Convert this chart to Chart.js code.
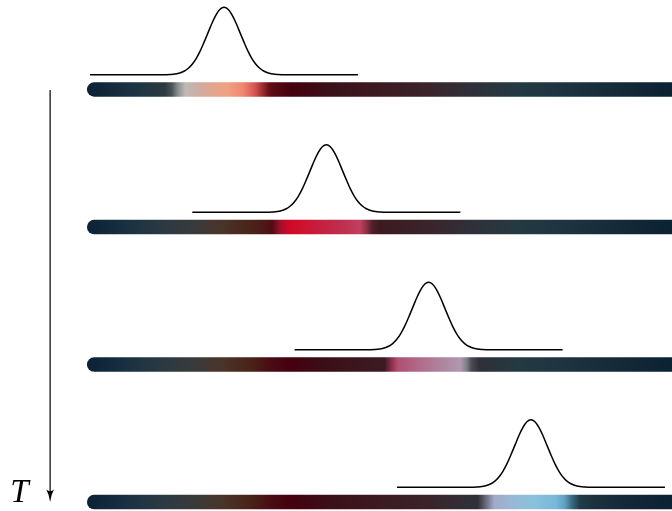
<!DOCTYPE html>
<html>
<head>
<meta charset="utf-8">
<script src="https://cdn.jsdelivr.net/npm/chart.js@4"></script>
<style>
html,body{margin:0;padding:0;background:#fff;}
#wrap{width:672px;height:511px;position:relative;}
</style>
</head>
<body>
<div id="wrap"><canvas id="c"></canvas></div>
<script>
// ---------------- DATA ----------------
// time steps (one coloured strip per step)
const timeSteps = [0, 1, 2, 3];
// position of the wave packet centre at each time step
const packetCenters = [1, 2, 3, 4];
// packet profile: offsets from centre and normalised height
const shapeOffsets = [0, 0.039, 0.078, 0.117, 0.156, 0.196, 0.235, 0.274, 0.313, 0.352, 0.391, 0.450, 0.528, 0.606, 1.31];
const shapeHeights = [1, 0.971, 0.889, 0.768, 0.625, 0.480, 0.347, 0.237, 0.153, 0.093, 0.053, 0.020, 0.005, 0.001, 0];
// strip extent
const stripStart = -0.27;
const stripEnd = 5.6;
// background colour of the strip (position, colour)
const baseStopPos = [-0.34, 0.08, 0.42, 0.72, 0.98, 1.25, 1.45, 1.65, 2.04, 2.52, 3.01, 3.40, 3.89, 4.28, 4.87, 5.38];
const baseStopColors = ['#0b2236', '#1a3242', '#2c3a42', '#3a3a3a', '#4a3428', '#4a2418', '#4a0c14', '#45000e',
  '#3a1018', '#3c1a22', '#3a242a', '#303038', '#243a42', '#1e3440', '#152a38', '#0a2234'];
// highlighted colours under the packet at each time step
const highlightPos = [
  [0.49, 0.55, 0.62, 0.77, 0.91, 1.04, 1.18, 1.25, 1.31, 1.37, 1.45],
  [1.37, 1.47, 1.55, 1.63, 1.74, 1.94, 2.18, 2.33, 2.39, 2.45],
  [2.57, 2.64, 2.70, 2.92, 3.16, 3.31, 3.37, 3.42, 3.50],
  [3.48, 3.56, 3.64, 3.80, 4.04, 4.24, 4.33, 4.40, 4.48, 4.58]
];
const highlightColors = [
  ['#4a5458', '#8a8e8e', '#c0b8b6', '#d0aca0', '#e4a48c', '#f0a080', '#f08870', '#e06c60', '#d05050', '#a03030', '#600c14'],
  ['#4a1c18', '#500c14', '#a0102a', '#d00828', '#d0102c', '#c42040', '#c03050', '#c04060', '#903048', '#502028'],
  ['#3c1a22', '#903050', '#b05070', '#b06c8c', '#ae88a0', '#b098b0', '#808088', '#4a4a54', '#2e3038'],
  ['#303038', '#6a6a7a', '#a0aac8', '#98b8d4', '#88c2dc', '#78b8d8', '#60a0c0', '#3a6a80', '#203a48', '#1c3440']
];
// time axis
const timeAxisPos = -0.70;
const timeAxisFrom = 0.004;
const timeAxisTo = 2.93;
const timeLabel = 'T';

// ---------------- LAYOUT (derived) ----------------
const X_MIN = -1.19, X_MAX = 5.379;
const Y_MIN = -0.651, Y_MAX = 3.065;
const BASE_OFFSET = 0.107;  // curve baseline above strip centre (row units)
const AMP = 0.491;          // curve height (row units)

function stopsFor(row) {
  const hp = highlightPos[row], hc = highlightColors[row];
  const lo = hp[0], hi = hp[hp.length - 1];
  const stops = [];
  baseStopPos.forEach((p, i) => { if (p < lo - 0.001 || p > hi + 0.001) stops.push([p, baseStopColors[i]]); });
  hp.forEach((p, i) => stops.push([p, hc[i]]));
  stops.sort((a, b) => a[0] - b[0]);
  return stops;
}

function stripGradient(context, row) {
  const chart = context.chart;
  if (!chart.chartArea) return '#1a2a36';
  const xs = chart.scales.x;
  const p0 = xs.getPixelForValue(X_MIN), p1 = xs.getPixelForValue(X_MAX);
  const g = chart.ctx.createLinearGradient(p0, 0, p1, 0);
  stopsFor(row).forEach(([p, c]) => {
    const t = Math.min(1, Math.max(0, (p - X_MIN) / (X_MAX - X_MIN)));
    g.addColorStop(t, c);
  });
  return g;
}

const datasets = [];
timeSteps.forEach((T, row) => {
  datasets.push({
    data: [{x: stripStart, y: T}, {x: stripEnd, y: T}],
    borderColor: (ctx) => stripGradient(ctx, row),
    borderWidth: 14.4,
    borderCapStyle: 'round',
    pointRadius: 0,
    tension: 0,
    clip: false
  });
});
timeSteps.forEach((T, row) => {
  const c = packetCenters[row];
  const pts = [];
  for (let i = shapeOffsets.length - 1; i > 0; i--) pts.push({x: c - shapeOffsets[i], y: T - BASE_OFFSET - AMP * shapeHeights[i]});
  for (let i = 0; i < shapeOffsets.length; i++) pts.push({x: c + shapeOffsets[i], y: T - BASE_OFFSET - AMP * shapeHeights[i]});
  datasets.push({
    data: pts,
    borderColor: '#000',
    borderWidth: 1.5,
    pointRadius: 0,
    cubicInterpolationMode: 'monotone',
    fill: false
  });
});
datasets.push({
  data: [{x: timeAxisPos, y: timeAxisFrom}, {x: timeAxisPos, y: timeAxisTo}],
  borderColor: '#000',
  borderWidth: 1.2,
  pointRadius: 0,
  tension: 0
});

const decor = {
  id: 'decor',
  afterDatasetsDraw(chart) {
    const ctx = chart.ctx;
    const xs = chart.scales.x, ys = chart.scales.y;
    const x = xs.getPixelForValue(timeAxisPos);
    const yEnd = ys.getPixelForValue(timeAxisTo);
    const tip = yEnd + 9.5;
    ctx.save();
    ctx.fillStyle = '#000';
    ctx.beginPath();
    ctx.moveTo(x, tip);
    ctx.quadraticCurveTo(x - 0.8, tip - 7, x - 3.8, tip - 12.5);
    ctx.quadraticCurveTo(x, tip - 9, x + 3.8, tip - 12.5);
    ctx.quadraticCurveTo(x + 0.8, tip - 7, x, tip);
    ctx.closePath();
    ctx.fill();
    ctx.font = 'italic 33px "Liberation Serif", "DejaVu Serif", serif';
    ctx.textAlign = 'left';
    ctx.textBaseline = 'alphabetic';
    ctx.fillText(timeLabel, x - 40, tip);
    ctx.restore();
  }
};

new Chart(document.getElementById('c'), {
  type: 'line',
  data: {datasets},
  options: {
    responsive: true,
    maintainAspectRatio: false,
    animation: false,
    events: [],
    layout: {padding: 0},
    scales: {
      x: {type: 'linear', min: X_MIN, max: X_MAX, display: false},
      y: {type: 'linear', min: Y_MIN, max: Y_MAX, reverse: true, display: false}
    },
    plugins: {legend: {display: false}, tooltip: {enabled: false}}
  },
  plugins: [decor]
});
</script>
</body>
</html>
